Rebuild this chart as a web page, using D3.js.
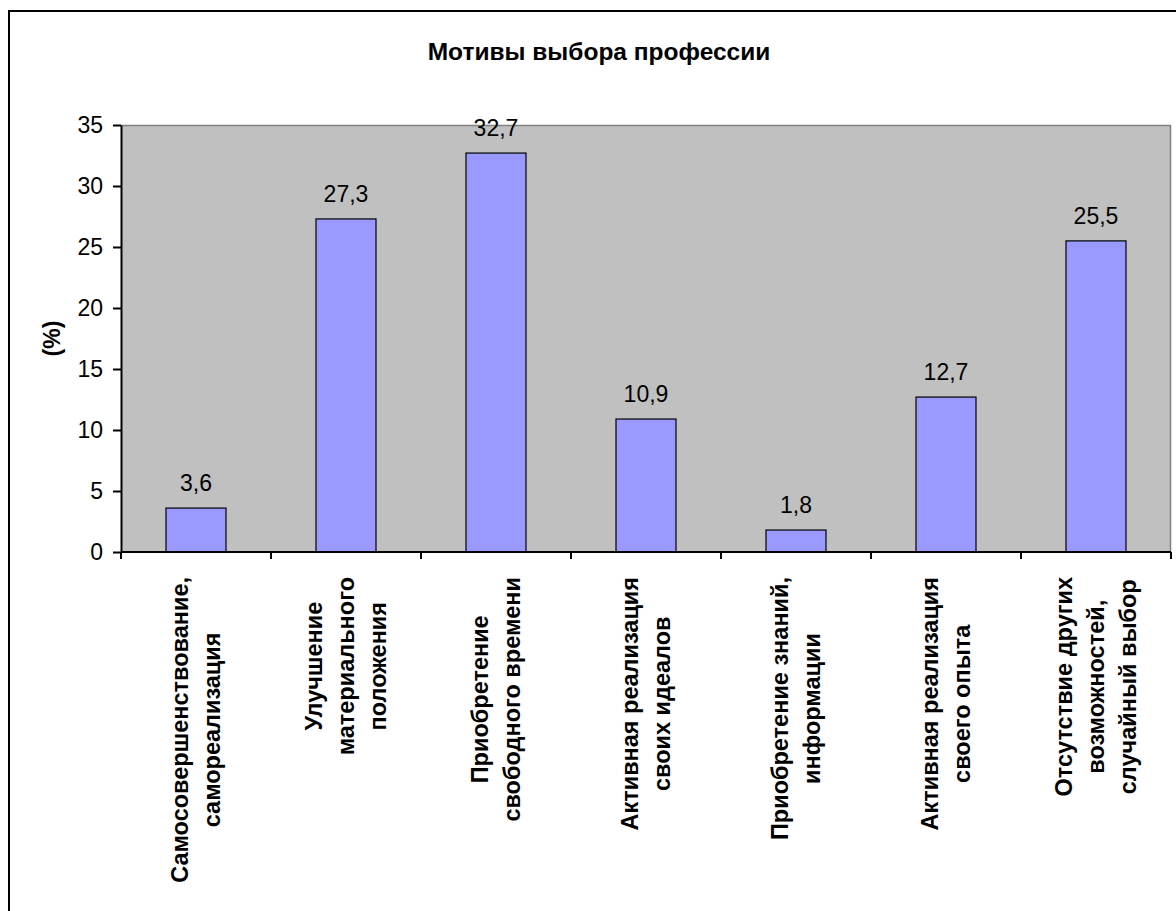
<!DOCTYPE html>
<html>
<head>
<meta charset="utf-8">
<script src="https://cdn.jsdelivr.net/npm/d3@7"></script>
<style>
  html, body { margin: 0; padding: 0; background: #fff; }
  svg { display: block; }
  text { font-family: Arial, "Liberation Sans", sans-serif; fill: #000; }
</style>
</head>
<body>
<svg id="chart" width="1176" height="911"></svg>
<script>
// Motives for choosing a profession, share of respondents (%)
const title = "Мотивы выбора профессии";
const yTitle = "(%)";
const categories = [
  ["Самосовершенствование,", "самореализация"],
  ["Улучшение", "материального", "положения"],
  ["Приобретение", "свободного времени"],
  ["Активная реализация", "своих идеалов"],
  ["Приобретение знаний,", "информации"],
  ["Активная реализация", "своего опыта"],
  ["Отсутствие других", "возможностей,", "случайный выбор"]
];
const values = [3.6, 27.3, 32.7, 10.9, 1.8, 12.7, 25.5];
const yTicks = [0, 5, 10, 15, 20, 25, 30, 35];

const svg = d3.select("#chart");
const plot = { left: 121, right: 1171, top: 125, bottom: 552 };

// outer frame
svg.append("rect")
  .attr("x", 9).attr("y", 11)
  .attr("width", 1300).attr("height", 1000)
  .attr("fill", "#fff").attr("stroke", "#000").attr("stroke-width", 2);

const keys = categories.map((c, i) => i);
const x = d3.scaleBand().domain(keys).range([plot.left, plot.right]).paddingInner(0).paddingOuter(0);
const y = d3.scaleLinear().domain([0, 35]).range([plot.bottom, plot.top]);

// plot area
svg.append("rect")
  .attr("x", plot.left).attr("y", plot.top)
  .attr("width", plot.right - plot.left).attr("height", plot.bottom - plot.top)
  .attr("fill", "#C0C0C0");
svg.append("path")
  .attr("d", `M${plot.left},${plot.top + 0.5}H${plot.right - 0.5}V${plot.bottom}`)
  .attr("fill", "none").attr("stroke", "#808080").attr("stroke-width", 1.5);

// title
svg.append("text")
  .attr("x", 599).attr("y", 60)
  .attr("text-anchor", "middle")
  .attr("font-size", 24.5).attr("font-weight", "bold")
  .text(title);

// bars
const bw = x.bandwidth() * 0.4;
svg.append("g").selectAll("rect").data(values).join("rect")
  .attr("x", (d, i) => x(i) + (x.bandwidth() - bw) / 2)
  .attr("y", d => y(d))
  .attr("width", bw)
  .attr("height", d => y(0) - y(d))
  .attr("fill", "#9999FF").attr("stroke", "#000").attr("stroke-width", 1.2);

// value labels
svg.append("g").selectAll("text").data(values).join("text")
  .attr("x", (d, i) => x(i) + x.bandwidth() / 2)
  .attr("y", d => y(d) - 17)
  .attr("text-anchor", "middle")
  .attr("font-size", 23)
  .text(d => d3.format(".1f")(d).replace(".", ","));

// y axis
const yAxis = svg.append("g")
  .attr("transform", `translate(${plot.left},0)`)
  .call(d3.axisLeft(y).tickValues(yTicks).tickSize(8).tickPadding(10).tickSizeOuter(0));
yAxis.select(".domain").attr("stroke", "#000").attr("stroke-width", 2);
yAxis.selectAll(".tick line").attr("stroke", "#000").attr("stroke-width", 2);
yAxis.selectAll(".tick text").attr("font-size", 23).attr("font-family", "Arial, 'Liberation Sans', sans-serif").attr("fill", "#000");

// x axis line with ticks on category boundaries
const boundaries = keys.map(k => x(k)).concat([plot.right]);
const xAxis = svg.append("g");
xAxis.append("line")
  .attr("x1", plot.left).attr("x2", plot.right)
  .attr("y1", plot.bottom).attr("y2", plot.bottom)
  .attr("stroke", "#000").attr("stroke-width", 2);
xAxis.selectAll(".tk").data(boundaries).join("line")
  .attr("class", "tk")
  .attr("x1", d => d).attr("x2", d => d)
  .attr("y1", plot.bottom).attr("y2", plot.bottom + 7)
  .attr("stroke", "#000").attr("stroke-width", 2);

// rotated multi-line category labels
const lineGap = 32;
const labelTop = 577;
categories.forEach((lines, i) => {
  const cx = x(i) + x.bandwidth() / 2;
  const g = svg.append("g");
  const texts = lines.map((ln, j) => g.append("text")
    .attr("font-size", 23.5).attr("font-weight", "bold")
    .attr("text-anchor", "middle")
    .text(ln));
  const maxW = d3.max(texts, t => t.node().getComputedTextLength());
  const cy = labelTop + maxW / 2;
  texts.forEach((t, j) => {
    const off = (j - (lines.length - 1) / 2) * lineGap;
    t.attr("transform", `translate(${cx + off},${cy}) rotate(-90)`)
      .attr("dy", "0.35em");
  });
});

// y axis title
svg.append("text")
  .attr("transform", `translate(52,${(plot.top + plot.bottom) / 2}) rotate(-90)`)
  .attr("text-anchor", "middle").attr("dy", "0.35em")
  .attr("font-size", 23).attr("font-weight", "bold")
  .text(yTitle);
</script>
</body>
</html>
